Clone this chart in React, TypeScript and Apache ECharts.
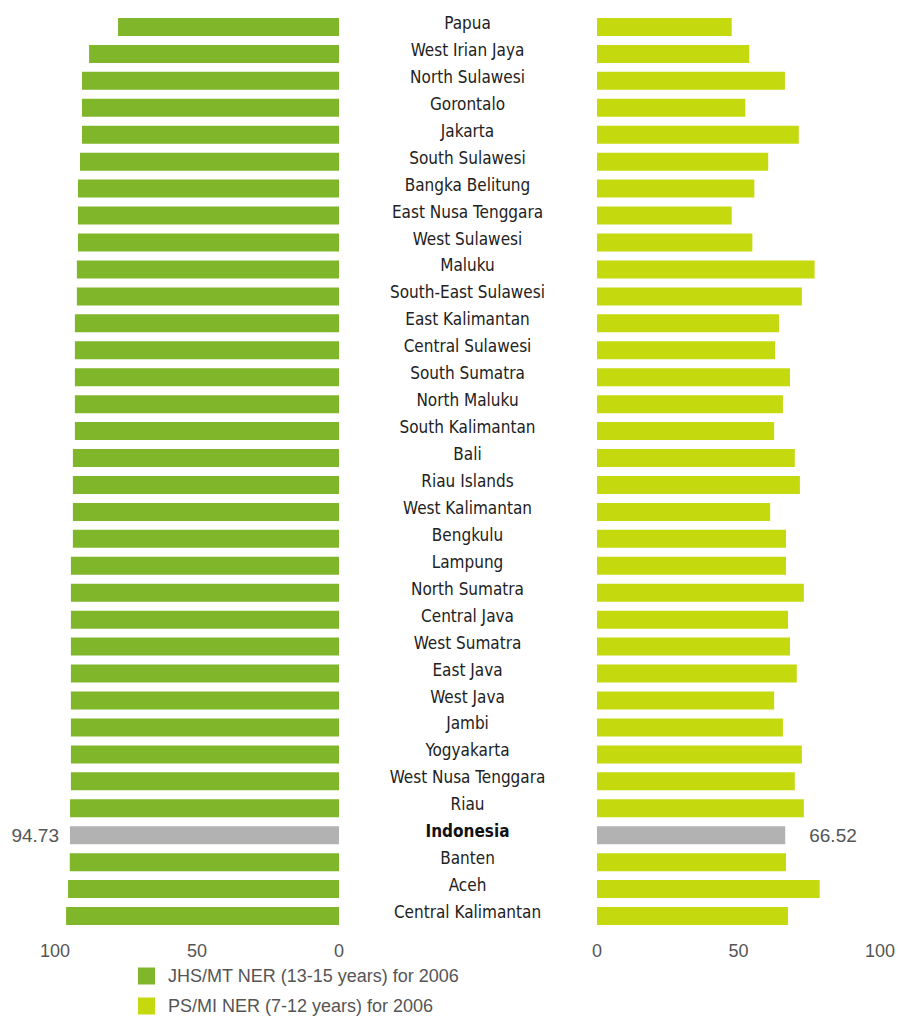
import React, { useEffect, useRef } from "react";
import * as echarts from "echarts";

const categories = [
  "Papua", "West Irian Jaya", "North Sulawesi", "Gorontalo", "Jakarta", "South Sulawesi",
  "Bangka Belitung", "East Nusa Tenggara", "West Sulawesi", "Maluku", "South-East Sulawesi",
  "East Kalimantan", "Central Sulawesi", "South Sumatra", "North Maluku", "South Kalimantan",
  "Bali", "Riau Islands", "West Kalimantan", "Bengkulu", "Lampung", "North Sumatra",
  "Central Java", "West Sumatra", "East Java", "West Java", "Jambi", "Yogyakarta",
  "West Nusa Tenggara", "Riau", "Indonesia", "Banten", "Aceh", "Central Kalimantan",
];

const jhsValues = [
  77.8, 88.0, 90.5, 90.5, 90.5, 91.2,
  91.9, 91.9, 91.9, 92.3, 92.3,
  93.0, 93.0, 93.0, 93.0, 93.0,
  93.7, 93.7, 93.7, 93.7, 94.4, 94.4,
  94.4, 94.4, 94.4, 94.4, 94.4, 94.4,
  94.4, 94.7, 94.73, 94.8, 95.4, 96.1,
];

const psValues = [
  47.6, 53.8, 66.4, 52.4, 71.3, 60.5,
  55.6, 47.6, 54.9, 76.9, 72.4,
  64.3, 62.9, 68.2, 65.7, 62.6,
  69.9, 71.7, 61.2, 66.8, 66.8, 73.1,
  67.5, 68.2, 70.6, 62.6, 65.7, 72.4,
  69.9, 73.1, 66.52, 66.8, 78.7, 67.5,
];

const axisTicks = [0, 50, 100];
const seriesNames = ["JHS/MT NER (13-15 years) for 2006", "PS/MI NER (7-12 years) for 2006"];
const highlight = "Indonesia";

const GREEN = "#80b62a";
const LIME = "#c4da0e";
const GRAY = "#b2b2b2";
const NARROW = "'Liberation Sans Narrow', 'DejaVu Sans Condensed', 'Liberation Sans', sans-serif";
const REG = "'Liberation Sans', Arial, sans-serif";

export default function App() {
  const ref = useRef<HTMLDivElement>(null);
  useEffect(() => {
    if (!ref.current) return;
    const chart = echarts.init(ref.current, undefined, { renderer: "svg" });
    const mk = (vals: number[], color: string, side: "left" | "right", dist: number) =>
      vals.map((v, i) =>
        categories[i] === highlight
          ? {
              value: v,
              itemStyle: { color: GRAY },
              label: {
                show: true,
                position: side,
                distance: dist,
                formatter: v.toFixed(2),
                fontSize: 19,
                color: "#555",
                fontFamily: REG,
              },
            }
          : { value: v, itemStyle: { color } }
      );
    const xAxisCommon = {
      type: "value",
      min: axisTicks[0],
      max: axisTicks[axisTicks.length - 1],
      interval: 50,
      axisLine: { show: false },
      axisTick: { show: false },
      splitLine: { show: false },
      axisLabel: { fontSize: 18, color: "#555", fontFamily: REG, margin: 12 },
    };
    const legendCommon = {
      orient: "vertical",
      left: 138,
      padding: 0,
      itemWidth: 17,
      itemHeight: 17,
      icon: "rect",
      textStyle: { fontSize: 18, color: "#555", fontFamily: REG, padding: [0, 0, 0, 8] },
    };
    chart.setOption({
      animation: false,
      backgroundColor: "#fff",
      grid: [
        { left: 55, width: 284, top: 13.5, height: 916 },
        { left: 597, width: 286, top: 13.5, height: 916 },
      ],
      xAxis: [
        { ...xAxisCommon, gridIndex: 0, inverse: true },
        { ...xAxisCommon, gridIndex: 1 },
      ],
      yAxis: [
        {
          type: "category",
          gridIndex: 0,
          data: categories,
          inverse: true,
          axisLine: { show: false },
          axisTick: { show: false },
          axisLabel: { show: false },
        },
        {
          type: "category",
          gridIndex: 1,
          data: categories,
          inverse: true,
          axisLine: { show: false },
          axisTick: { show: false },
          axisLabel: {
            show: true,
            align: "center",
            margin: 129.5,
            fontSize: 17,
            color: "#222",
            fontFamily: NARROW,
            padding: [0, 0, 8, 0],
            formatter: (v: string) => (v === highlight ? `{b|${v}}` : v),
            rich: {
              b: { fontWeight: "bold", fontSize: 17, color: "#111", fontFamily: NARROW },
            },
          },
        },
      ],
      legend: [
        { ...legendCommon, top: 967, data: [seriesNames[0]] },
        { ...legendCommon, top: 997, data: [seriesNames[1]] },
      ],
      series: [
        {
          name: seriesNames[0],
          type: "bar",
          xAxisIndex: 0,
          yAxisIndex: 0,
          barWidth: 18,
          itemStyle: { color: GREEN },
          data: mk(jhsValues, GREEN, "left", 11),
        },
        {
          name: seriesNames[1],
          type: "bar",
          xAxisIndex: 1,
          yAxisIndex: 1,
          barWidth: 18,
          itemStyle: { color: LIME },
          data: mk(psValues, LIME, "right", 24),
        },
      ],
    });
    return () => chart.dispose();
  }, []);
  return (
    <div
      ref={ref}
      style={{ position: "absolute", left: 0, top: 0, width: 898, height: 1019 }}
    />
  );
}
